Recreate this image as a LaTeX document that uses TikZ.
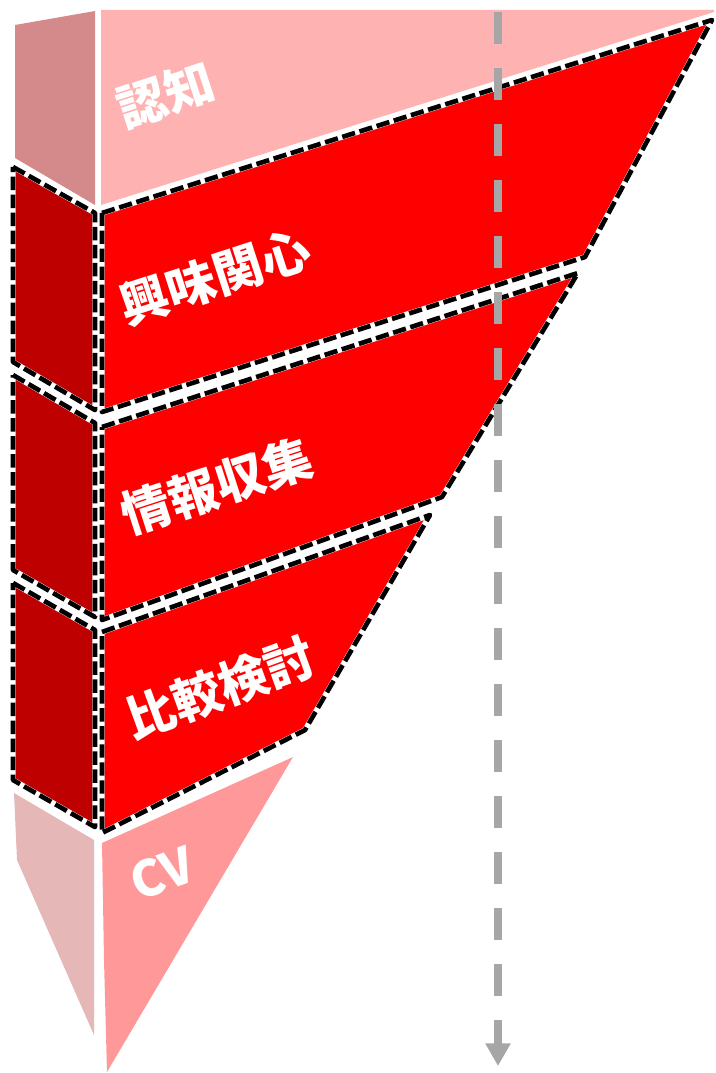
\documentclass[tikz,border=0pt]{standalone}
\usepackage{fontspec}
\newfontfamily\jpfont{Noto Sans CJK JP}
\usetikzlibrary{arrows.meta}
\definecolor{awfront}{RGB}{255,178,178}
\definecolor{awside}{RGB}{212,138,138}
\definecolor{stagered}{RGB}{255,0,0}
\definecolor{stageside}{RGB}{191,0,0}
\definecolor{cvfront}{RGB}{255,153,153}
\definecolor{cvside}{RGB}{229,183,183}
\definecolor{arrowgray}{RGB}{166,166,166}

\begin{document}
\begin{tikzpicture}[x=0.75pt,y=-0.75pt,
  face/.style={fill=#1, postaction={draw=white, line width=4pt, line join=round},
    postaction={draw=black, line width=3.5pt, line join=round, dash pattern=on 10pt off 3.5pt}},
  paleface/.style={fill=#1},
  stagelabel/.style={text=white, inner sep=0pt, font=\jpfont\bfseries\fontsize{37}{37}\selectfont},
  flowarrow/.style={draw=arrowgray, line width=6pt, dash pattern=on 24pt off 18pt,
    -{Triangle[width=18pt,length=17pt]}}]
  \useasboundingbox (0,0) rectangle (716,1073);

  %% Awareness (top, pale)
  \path[paleface=awside] (15,25) -- (95,11) -- (95,205) -- (15,158) -- cycle;
  \path[paleface=awfront] (101,10) -- (714,10) -- (714,12) -- (101,205) -- cycle;

  %% Interest
  \path[face=stageside] (13,167) -- (95,213) -- (95,410) -- (13,362) -- cycle;
  \path[face=stagered] (102,213) -- (712,20) -- (585,257) -- (102,412) -- cycle;

  %% Information gathering
  \path[face=stageside] (13,375) -- (95,423) -- (95,617) -- (13,570) -- cycle;
  \path[face=stagered] (102,427) -- (578,273) -- (442,497) -- (102,620) -- cycle;

  %% Comparison
  \path[face=stageside] (13,583) -- (95,630) -- (95,827) -- (13,780) -- cycle;
  \path[face=stagered] (102,632) -- (430,515) -- (305,730) -- (102,833) -- cycle;

  %% Conversion (bottom, pale)
  \path[paleface=cvside] (14,793) -- (94,840) -- (94,1035) -- (17,860) -- cycle;
  \path[paleface=cvfront] (102,843) -- (293,757) -- (107,1072) -- (104,960) -- cycle;

  %% Labels
  \node[stagelabel, rotate=18] (ninchi) at (166,95) {認知};
  \node[stagelabel, rotate=18] (kyomi) at (215,277) {興味関心};
  \node[stagelabel, rotate=18] (joho) at (217,486) {情報収集};
  \node[stagelabel, rotate=20] (hikaku) at (220,688) {比較検討};
  \node[stagelabel, rotate=20] (cv) at (162,873) {CV};

  %% Flow arrow
  \coordinate (flowtop) at (498,12);
  \coordinate (flowend) at (498,1066);
  \draw[flowarrow] (flowtop) -- (flowend);
\end{tikzpicture}
\end{document}
